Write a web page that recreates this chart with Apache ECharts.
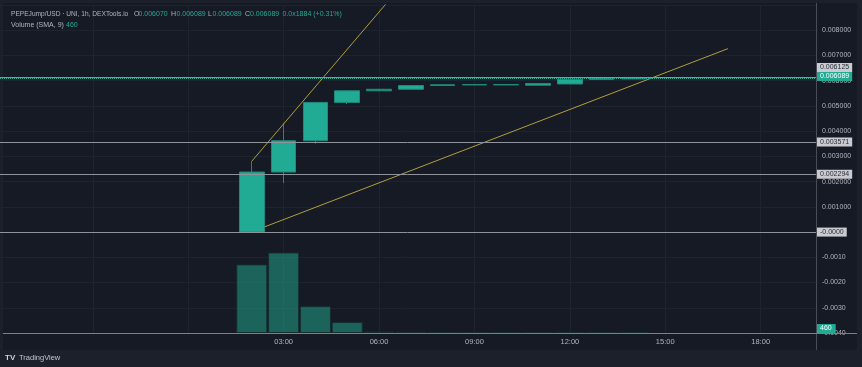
<!DOCTYPE html>
<html><head><meta charset="utf-8">
<script src="https://cdn.jsdelivr.net/npm/echarts@6/dist/echarts.min.js"></script>
<style>
html,body{margin:0;padding:0;background:#1c202b;}
#wrap{position:relative;width:862px;height:367px;overflow:hidden;}
#pane{position:absolute;left:3px;top:3px;width:854px;height:347px;background:#161a25;}
#chart{position:absolute;left:0;top:0;width:862px;height:367px;}
</style></head><body>
<div id="wrap"><div id="pane"></div><div id="chart"></div></div>
<script>
// ---- data (hours of the day, 1h candles) ----
const hours   = [2, 3, 4, 5, 6, 7, 8, 9, 10, 11, 12, 13, 14];
const opens   = [0.000000, 0.00238, 0.00362, 0.00514, 0.00560, 0.00566, 0.00581, 0.00583, 0.00583, 0.00582, 0.00587, 0.00605, 0.006070];
const closes  = [0.00238, 0.00362, 0.00514, 0.00560, 0.00566, 0.00581, 0.00584, 0.00585, 0.00585, 0.00589, 0.00606, 0.00610, 0.006089];
const lows    = [0.000000, 0.00194, 0.00351, 0.00507, 0.00558, 0.00565, 0.00580, 0.00583, 0.00583, 0.00581, 0.00586, 0.00605, 0.006070];
const highs   = [0.00281, 0.00432, 0.00514, 0.00562, 0.00567, 0.00582, 0.00585, 0.00585, 0.00585, 0.00589, 0.00607, 0.00611, 0.006089];
const volumes = [69000, 81000, 27000, 11000, 1500, 1300, 900, 700, 600, 800, 1100, 700, 460];

const priceLevels      = [0.006125, 0.003571, 0.002294, 0];
const priceLevelLabels = ['0.006125', '0.003571', '0.002294', '-0.0000'];
const lastPrice = 0.006089;
const lastPriceLabel = '0.006089';
const lastVolume = 460;
const lastVolumeLabel = '460';

const trend1 = [[2, 0.00281], [6.5, 0.00946]];
const trend2 = [[2.41, 0.00021], [16.97, 0.00727]];

const timeTickHours  = [3, 6, 9, 12, 15, 18];
const timeTickLabels = ['03:00', '06:00', '09:00', '12:00', '15:00', '18:00'];

// ---- build ----
const FONT = '"Liberation Sans", Arial, sans-serif';
const TEAL = '#22ab94';
const GREY = '#b2b5be';

const candleData = hours.map((h, i) => [h, opens[i], closes[i], lows[i], highs[i]]);
const volData = hours.map((h, i) => [h, volumes[i]]);

const tagGrey = {backgroundColor: '#c9cbd1', color: '#2a2e39'};
const levelLines = priceLevels.map((v, i) => ({
  yAxis: v,
  lineStyle: {color: '#8f929b', width: 1, type: 'solid'},
  label: Object.assign({formatter: priceLevelLabels[i], offset: i === 0 ? [0, -10] : [0, 0]}, tagGrey)
}));
levelLines.push({
  yAxis: lastPrice,
  lineStyle: {color: TEAL, width: 1, type: 'dotted'},
  label: {formatter: lastPriceLabel, backgroundColor: TEAL, color: '#ffffff', offset: [0, -2]}
});

const chart = echarts.init(document.getElementById('chart'), null, {renderer: 'canvas'});

const legendPieces = [
  {t: 'PEPEJump/USD · UNI, 1h, DEXTools.io', x: 11, y: 14.5, c: GREY, s: 6.6},
  {t: 'O', x: 134, y: 14.5, c: GREY}, {t: '0.006070', x: 138.5, y: 14.5, c: TEAL},
  {t: 'H', x: 171, y: 14.5, c: GREY}, {t: '0.006089', x: 176.5, y: 14.5, c: TEAL},
  {t: 'L', x: 208, y: 14.5, c: GREY}, {t: '0.006089', x: 212.5, y: 14.5, c: TEAL},
  {t: 'C', x: 245, y: 14.5, c: GREY}, {t: '0.006089', x: 250, y: 14.5, c: TEAL},
  {t: '0.0x1884 (+0.31%)', x: 282.5, y: 14.5, c: TEAL},
  {t: 'Volume (SMA, 9)', x: 11, y: 25, c: GREY},
  {t: '460', x: 66, y: 25, c: TEAL}
];

const graphics = legendPieces.map(p => ({
  type: 'text', x: p.x, y: p.y, z: 100, silent: true,
  style: {text: p.t, fill: p.c, fontSize: p.s || 7, fontFamily: FONT, verticalAlign: 'middle'}
}));
graphics.push(
  {type: 'line', z: 90, silent: true, shape: {x1: 816.5, y1: 3, x2: 816.5, y2: 350}, style: {stroke: '#4a4d58', lineWidth: 1}},
  {type: 'line', z: 90, silent: true, shape: {x1: 3, y1: 333.5, x2: 857, y2: 333.5}, style: {stroke: '#7c7f89', lineWidth: 1}},
  {type: 'text', x: 5, y: 358, z: 100, silent: true, style: {text: 'TV', fill: '#d1d4dc', fontSize: 8, fontWeight: 'bold', fontFamily: FONT, verticalAlign: 'middle'}},
  {type: 'text', x: 19, y: 358, z: 100, silent: true, style: {text: 'TradingView', fill: '#c3c6ce', fontSize: 7.5, fontFamily: FONT, verticalAlign: 'middle'}}
);

chart.setOption({
  animation: false,
  backgroundColor: 'transparent',
  grid: {left: -98, right: 46, top: 5, bottom: 34, containLabel: false, outerBoundsMode: 'none'},
  xAxis: {
    type: 'value', min: -9, max: 19.74, interval: 3,
    axisLine: {show: false}, axisTick: {show: false},
    splitLine: {show: true, lineStyle: {color: '#1f2330', width: 1}},
    axisLabel: {
      color: GREY, fontSize: 7.5, fontFamily: FONT, margin: 5,
      showMinLabel: false, showMaxLabel: false,
      formatter: v => { const i = timeTickHours.indexOf(Math.round(v * 1000) / 1000); return i >= 0 ? timeTickLabels[i] : ''; }
    }
  },
  yAxis: [
    {
      type: 'value', position: 'right', min: -0.004, max: 0.009, interval: 0.001,
      axisLine: {show: false}, axisTick: {show: false},
      splitLine: {show: true, lineStyle: {color: '#1f2330', width: 1}},
      axisLabel: {
        color: GREY, fontSize: 7, fontFamily: FONT, margin: 6, align: 'left',
        formatter: v => { const r = Math.round(v * 1e6) / 1e6; if (r === 0 || r >= 0.0089) return ''; return r > 0 ? r.toFixed(6) : r.toFixed(4); }
      }
    },
    {type: 'value', min: 0, max: 330000, show: false, splitLine: {show: false}}
  ],
  graphic: graphics,
  series: [
    {
      type: 'bar', xAxisIndex: 0, yAxisIndex: 1, data: volData, barWidth: 31, z: 1,
      itemStyle: {color: 'rgba(34,171,148,0.5)', borderColor: 'rgba(22,45,48,0.9)', borderWidth: 1},
      markLine: {
        silent: true, symbol: ['none', 'none'], precision: 8,
        lineStyle: {color: 'rgba(0,0,0,0)', width: 1},
        label: {position: 'end', distance: 0, fontSize: 7, fontFamily: FONT, padding: [1, 4, 1, 4], color: '#ffffff', backgroundColor: TEAL},
        data: [{yAxis: lastVolume, label: {formatter: lastVolumeLabel, offset: [0, -4]}}]
      }
    },
    {
      type: 'candlestick', xAxisIndex: 0, yAxisIndex: 0, data: candleData, barWidth: 25, z: 3,
      encode: {x: 0, y: [1, 2, 3, 4]},
      itemStyle: {color: TEAL, color0: '#f23645', borderColor: '#1f8a7a', borderColor0: '#f23645', borderWidth: 1}
    },
    {
      type: 'line', data: trend1, symbol: 'none', z: 4, clip: true,
      lineStyle: {color: '#b0a03c', width: 1}
    },
    {
      type: 'line', data: trend2, symbol: 'none', z: 4, clip: true,
      lineStyle: {color: '#b0a03c', width: 1},
      markLine: {
        silent: true, symbol: ['none', 'none'], precision: 8,
        label: {position: 'end', distance: 1, fontSize: 7, fontFamily: FONT, padding: [1, 3, 1, 3]},
        data: levelLines
      }
    }
  ]
});
</script>
</body></html>
